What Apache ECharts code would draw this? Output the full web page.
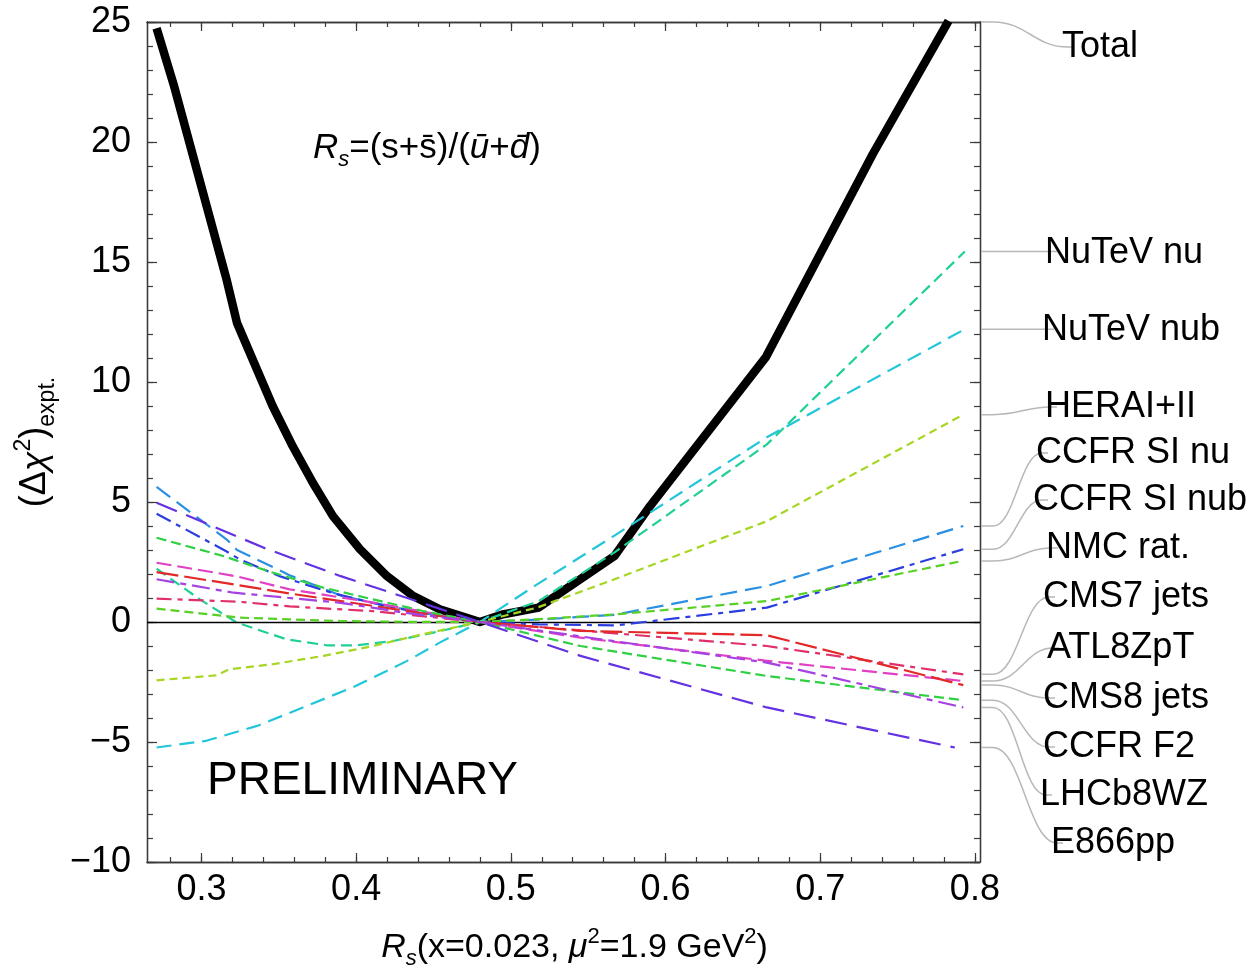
<!DOCTYPE html>
<html>
<head>
<meta charset="utf-8">
<script src="https://cdn.jsdelivr.net/npm/echarts@6/dist/echarts.min.js"></script>
<style>
  html, body { margin: 0; padding: 0; background: #fff; overflow: hidden; }
  #chart { width: 1251px; height: 969px; }
</style>
</head>
<body>
<div id="chart"></div>
<script>
// ---- data: (R_s, delta chi^2) pairs for each experiment ----
const total      = [[0.271,24.74],[0.282,22.4],[0.316,14.33],[0.323,12.46],[0.346,9.0],[0.359,7.32],[0.372,5.8],[0.385,4.41],[0.4025,3.03],[0.42,1.91],[0.437,1.08],[0.454,0.53],[0.48,0],[0.495,0.32],[0.518,0.6],[0.567,2.75],[0.59,4.83],[0.665,11.05],[0.734,19.5],[0.783,25.05]];
const nutevNu    = [[0.271,2.22],[0.299,0.94],[0.323,-0.03],[0.355,-0.72],[0.381,-0.97],[0.4,-0.97],[0.424,-0.79],[0.45,-0.44],[0.48,0],[0.518,0.87],[0.567,2.9],[0.6655,7.4],[0.7935,15.44]];
const nutevNub   = [[0.271,-5.23],[0.303,-4.95],[0.336,-4.33],[0.368,-3.5],[0.4,-2.66],[0.433,-1.62],[0.454,-0.86],[0.48,0],[0.517,1.57],[0.567,3.6],[0.6655,7.7],[0.7935,12.2]];
const hera       = [[0.271,-2.43],[0.31,-2.22],[0.318,-1.97],[0.346,-1.76],[0.379,-1.41],[0.411,-1.0],[0.443,-0.51],[0.48,0],[0.517,0.6],[0.567,1.78],[0.6655,4.2],[0.7925,8.64]];
const ccfrSiNu   = [[0.271,5.63],[0.317,3.4],[0.323,3.0],[0.357,1.95],[0.39,1.1],[0.422,0.65],[0.454,0.25],[0.48,0],[0.518,0.1],[0.567,0.3],[0.6655,1.5],[0.7925,4.0]];
const ccfrSiNub  = [[0.271,4.51],[0.316,2.95],[0.325,2.6],[0.351,1.9],[0.385,1.2],[0.42,0.65],[0.454,0.25],[0.48,0],[0.518,-0.1],[0.568,-0.14],[0.6655,0.6],[0.7925,3.03]];
const nmcRat     = [[0.271,0.56],[0.299,0.36],[0.325,0.18],[0.357,0.11],[0.39,0.04],[0.43,0.01],[0.48,0],[0.518,0.12],[0.568,0.32],[0.6655,0.87],[0.7915,2.54]];
const cms7Jets   = [[0.271,0.97],[0.323,0.85],[0.357,0.65],[0.411,0.45],[0.48,0],[0.6655,-1.0],[0.7925,-2.18]];
const atl8ZpT    = [[0.271,2.47],[0.323,1.9],[0.357,1.36],[0.411,0.81],[0.48,0],[0.545,-0.65],[0.6655,-1.62],[0.7925,-2.46]];
const cms8Jets   = [[0.271,2.08],[0.357,1.19],[0.411,0.67],[0.48,0],[0.545,-0.37],[0.6655,-0.55],[0.7925,-2.63]];
const ccfrF2     = [[0.271,3.51],[0.314,2.75],[0.346,2.06],[0.379,1.43],[0.411,0.94],[0.443,0.46],[0.48,0],[0.545,-1.0],[0.6655,-2.25],[0.7925,-3.26]];
const lhcb8WZ    = [[0.271,1.78],[0.321,1.22],[0.39,0.8],[0.43,0.4],[0.48,0],[0.545,-0.6],[0.6655,-1.69],[0.7925,-3.56]];
const e866pp     = [[0.271,4.97],[0.325,3.51],[0.34,3.1],[0.39,1.91],[0.433,1.0],[0.48,0],[0.545,-1.41],[0.6655,-3.56],[0.787,-5.23]];

const seriesNames = ['Total','NuTeV nu','NuTeV nub','HERAI+II','CCFR SI nu','CCFR SI nub','NMC rat.',
                     'CMS7 jets','ATL8ZpT','CMS8 jets','CCFR F2','LHCb8WZ','E866pp'];
const seriesData  = [total, nutevNu, nutevNub, hera, ccfrSiNu, ccfrSiNub, nmcRat,
                     cms7Jets, atl8ZpT, cms8Jets, ccfrF2, lhcb8WZ, e866pp];

// ---- axes ----
const X_MIN = 0.2648, X_MAX = 0.8033, Y_MIN = -10, Y_MAX = 25;
const xMajorTicks = [0.3, 0.4, 0.5, 0.6, 0.7, 0.8];
const xMinorTicks = [0.28,0.30,0.32,0.34,0.36,0.38,0.40,0.42,0.44,0.46,0.48,0.50,0.52,0.54,
                     0.56,0.58,0.60,0.62,0.64,0.66,0.68,0.70,0.72,0.74,0.76,0.78,0.80];
const xTickLabels = ['0.3','0.4','0.5','0.6','0.7','0.8'];

// ---- styles ----
const FONT = '"Liberation Sans", Arial, sans-serif';
const TICK_FONT = 36;
const lineStyles = [
  { color: '#000000', width: 8.5, type: 'solid' },
  { color: '#1fd096', width: 2.2, type: [11, 6] },
  { color: '#22c6d8', width: 2.2, type: [15, 8] },
  { color: '#a6d622', width: 2.2, type: [8, 5] },
  { color: '#2b8fe2', width: 2.2, type: [17, 8] },
  { color: '#2a3ee0', width: 2.2, type: [16, 6, 5, 6] },
  { color: '#58d024', width: 2.2, type: [9, 5] },
  { color: '#e0306a', width: 2.2, type: [15, 6, 5, 6] },
  { color: '#e040c4', width: 2.2, type: [15, 6] },
  { color: '#e22828', width: 2.2, type: [22, 6] },
  { color: '#30d044', width: 2.2, type: [10, 5] },
  { color: '#a442e2', width: 2.2, type: [18, 6, 6, 6] },
  { color: '#6432e2', width: 2.2, type: [22, 10] }
];

// callout label layout (pixel positions of the right-hand names)
const calloutTextLeft = [1062,1045,1042,1045,1036,1033,1046,1043,1047,1043,1043,1040,1051];
const calloutTextY    = [47,253,330,407,453,500,548,597,648,698,747,795,843];

function richSet(size) {
  const L = Math.round(size * 1.3);
  const s = Math.round(size * 0.64);
  const h = Math.round(L - 0.56 * size);
  return {
    lineHeight: L,
    rich: {
      i:    { fontFamily: FONT, fontSize: size, fontStyle: 'italic', lineHeight: L, color: '#000' },
      n:    { fontFamily: FONT, fontSize: size, lineHeight: L, color: '#000' },
      sub:  { fontFamily: FONT, fontSize: s, lineHeight: h, verticalAlign: 'bottom', color: '#000' },
      subi: { fontFamily: FONT, fontSize: s, fontStyle: 'italic', lineHeight: h, verticalAlign: 'bottom', color: '#000' },
      sup:  { fontFamily: FONT, fontSize: s, lineHeight: h, verticalAlign: 'top', color: '#000' }
    }
  };
}

const frameColor = '#3a3a3a';
function xAxisDef(position, ticks, len, withLabels) {
  const ax = {
    type: 'value', min: X_MIN, max: X_MAX, position: position,
    axisLine: { show: true, onZero: false, lineStyle: { color: frameColor, width: 1.3 } },
    axisTick: { show: true, inside: true, length: len, customValues: ticks,
                lineStyle: { color: frameColor, width: 1.2 } },
    axisLabel: { show: false },
    splitLine: { show: false }
  };
  if (withLabels) {
    ax.axisLabel = {
      show: true, customValues: xMajorTicks,
      formatter: v => xTickLabels[xMajorTicks.findIndex(t => Math.abs(t - v) < 1e-6)] || '',
      fontFamily: FONT, fontSize: TICK_FONT, color: '#000', margin: 10
    };
    const r = richSet(34);
    ax.name = '{i|R}{subi|s}(x=0.023, {i|\u03bc}{sup|2}=1.9 GeV{sup|2})';
    ax.nameLocation = 'middle';
    ax.nameGap = 64;
    ax.nameTextStyle = Object.assign({ fontFamily: FONT, fontSize: 34, color: '#000', padding: [0, 0, 0, 22] }, r);
  }
  return ax;
}
function yAxisDef(position, interval, len, withLabels) {
  const ax = {
    type: 'value', min: Y_MIN, max: Y_MAX, interval: interval, position: position,
    axisLine: { show: true, onZero: false, lineStyle: { color: frameColor, width: 1.3 } },
    axisTick: { show: true, inside: true, length: len, lineStyle: { color: frameColor, width: 1.2 } },
    axisLabel: { show: false },
    splitLine: { show: false }
  };
  if (withLabels) {
    ax.axisLabel = {
      show: true,
      formatter: v => (v < 0 ? '\u2212' + Math.abs(v) : String(v)),
      fontFamily: FONT, fontSize: TICK_FONT, color: '#000', margin: 16
    };
    const r = richSet(36);
    ax.name = '(\u0394{i|\u03c7}{sup|2}){sub|expt.}';
    ax.nameLocation = 'middle';
    ax.nameRotate = 90;
    ax.nameGap = 86;
    ax.nameTextStyle = Object.assign({ fontFamily: FONT, fontSize: 36, color: '#000' }, r);
  }
  return ax;
}

const lineSeries = seriesData.map((d, i) => {
  const s = {
    name: seriesNames[i], type: 'line', data: d,
    xAxisIndex: 0, yAxisIndex: 0,
    showSymbol: false, symbol: 'none', smooth: false, clip: true,
    lineStyle: { color: lineStyles[i].color, width: lineStyles[i].width, type: lineStyles[i].type, cap: 'butt', join: 'round' },
    emphasis: { disabled: true }, silent: true, z: 2 + i
  };
  if (i === 0) {
    s.markLine = {
      silent: true, symbol: 'none', label: { show: false },
      lineStyle: { color: '#000', width: 1.3, type: 'solid' },
      data: [{ yAxis: 0 }], animation: false
    };
  }
  return s;
});

// leader lines from each curve's end at the right frame to its name
const calloutData = seriesData.map((d, i) => [X_MAX, Math.min(d[d.length - 1][1], Y_MAX), i]);
const calloutSeries = {
  type: 'custom', coordinateSystem: 'cartesian2d', xAxisIndex: 0, yAxisIndex: 0,
  silent: true, clip: false, z: 20, data: calloutData,
  renderItem: function (params, api) {
    const i = api.value(2);
    const p = api.coord([api.value(0), api.value(1)]);
    const x0 = p[0] + 1, y0 = p[1];
    const lx = calloutTextLeft[i], ly = calloutTextY[i];
    const ex = Math.max(lx + 6, 1042);
    const hx = x0 + 12;
    let d;
    if (Math.abs(ly - y0) < 2) {
      d = 'M' + x0 + ',' + y0 + 'L' + (ex + 6) + ',' + y0;
    } else {
      const k = (ex - hx) * 0.45;
      d = 'M' + x0 + ',' + y0 + 'L' + hx + ',' + y0 +
          'C' + (hx + k) + ',' + y0 + ' ' + (ex - k) + ',' + ly + ' ' + ex + ',' + ly +
          'L' + (ex + 6) + ',' + ly;
    }
    return {
      type: 'group',
      children: [
        { type: 'path', shape: { pathData: d },
          style: { fill: 'none', stroke: '#b8b8b8', lineWidth: 1.5 } },
        { type: 'text', x: lx, y: ly,
          style: { text: seriesNames[i], fontFamily: FONT, fontSize: 36, fill: '#000',
                   align: 'left', verticalAlign: 'middle' } }
      ]
    };
  }
};

const chart = echarts.init(document.getElementById('chart'), null, { renderer: 'canvas' });
const formulaRich = richSet(35);
chart.setOption({
  animation: false,
  backgroundColor: '#ffffff',
  grid: { left: 147, right: 271, top: 22, bottom: 107, containLabel: false, outerBoundsMode: 'none' },
  xAxis: [
    xAxisDef('bottom', xMajorTicks, 9, true),
    xAxisDef('bottom', xMinorTicks, 5, false),
    xAxisDef('top', xMajorTicks, 9, false),
    xAxisDef('top', xMinorTicks, 5, false)
  ],
  yAxis: [
    yAxisDef('left', 5, 10, true),
    yAxisDef('left', 1, 6, false),
    yAxisDef('right', 5, 10, false),
    yAxisDef('right', 1, 6, false)
  ],
  graphic: [
    { type: 'text', x: 313, y: 148, z: 30,
      style: { text: '{i|R}{subi|s}{n|=(s+s\u0304)/(}{i|u\u0304}{n|+}{i|d\u0304}{n|)}',
               rich: formulaRich.rich, lineHeight: formulaRich.lineHeight,
               fontFamily: FONT, fontSize: 35, fill: '#000', verticalAlign: 'middle' } },
    { type: 'text', x: 207, y: 781, z: 30,
      style: { text: 'PRELIMINARY', fontFamily: FONT, fontSize: 46, fill: '#000', verticalAlign: 'middle' } }
  ],
  series: lineSeries.concat([calloutSeries])
});
</script>
</body>
</html>
